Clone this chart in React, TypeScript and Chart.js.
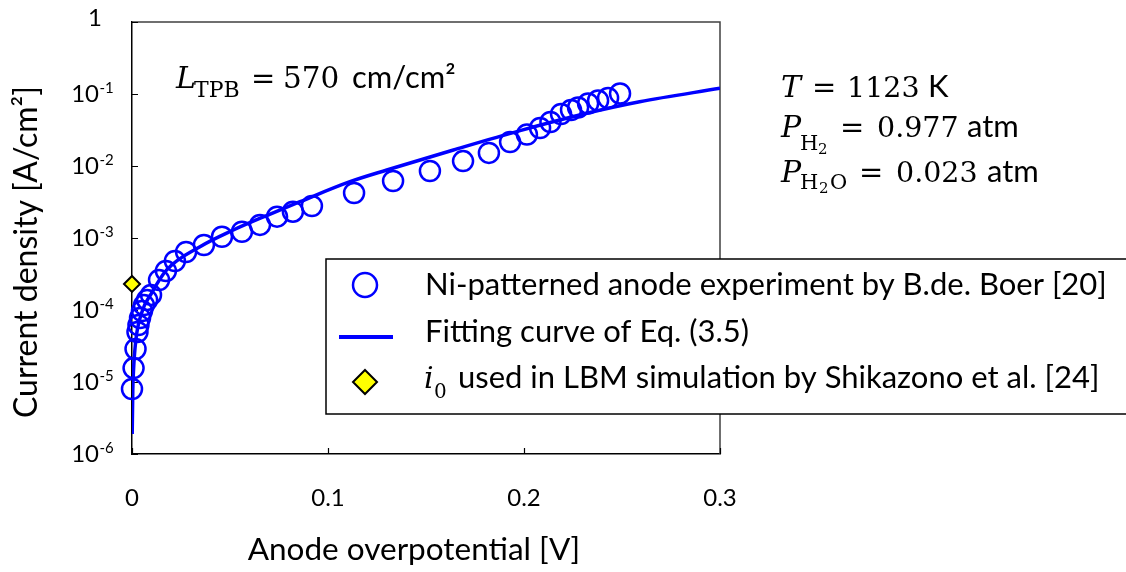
import React, { useEffect, useRef } from 'react';
import { Chart, registerables } from 'chart.js';

Chart.register(...registerables);

// ---- data ----
const expOverpotential = [0.0, 0.0008, 0.0018, 0.0028, 0.0033, 0.0041, 0.0051, 0.0061, 0.0077, 0.0097, 0.0138, 0.0173, 0.0219, 0.0276, 0.0367, 0.0459, 0.0561, 0.0653, 0.074, 0.0821, 0.0918, 0.1133, 0.1332, 0.152, 0.1689, 0.1821, 0.1929, 0.2015, 0.2082, 0.2135, 0.2189, 0.224, 0.2276, 0.2327, 0.2378, 0.2429, 0.249];
const expCurrent = [8.0e-6, 1.56e-5, 2.87e-5, 4.95e-5, 6.19e-5, 7.74e-5, 9.68e-5, 1.17e-4, 1.38e-4, 1.62e-4, 2.61e-4, 3.48e-4, 4.8e-4, 6.39e-4, 8.0e-4, 1.04e-3, 1.22e-3, 1.52e-3, 1.98e-3, 2.32e-3, 2.78e-3, 4.22e-3, 6.19e-3, 8.53e-3, 1.17e-2, 1.52e-2, 2.15e-2, 2.74e-2, 3.37e-2, 4.08e-2, 5.27e-2, 6.0e-2, 6.49e-2, 7.38e-2, 8.13e-2, 8.8e-2, 0.1016];

const fitOverpotential = [0.0001, 0.0004, 0.0007, 0.0019, 0.0049, 0.01, 0.0177, 0.0347, 0.0517, 0.0687, 0.0857, 0.1112, 0.13, 0.164, 0.198, 0.232, 0.259, 0.3];
const fitCurrent = [1.9e-6, 7.5e-6, 1.33e-5, 3.7e-5, 9.1e-5, 1.72e-4, 3.6e-4, 7.57e-4, 1.29e-3, 2.05e-3, 3.19e-3, 6.05e-3, 8.8e-3, 1.67e-2, 3.1e-2, 5.4e-2, 7.8e-2, 0.12];

const i0Overpotential = [0];
const i0Current = [2.3e-4];

const xTicks = [0, 0.1, 0.2, 0.3];
const yExponents = [0, -1, -2, -3, -4, -5, -6];

const legendLabels = [
  'Ni-patterned anode experiment by B.de. Boer [20]',
  'Fitting curve of Eq. (3.5)',
  'used in LBM simulation by Shikazono et al. [24]',
];
const xTitle = 'Anode overpotential [V]';
const yTitle = 'Current density [A/cm\u00B2]';

const BLUE = '#0000ff';
const SANS = 'Lato, "Noto Sans", sans-serif';
const SERIF = '"DejaVu Serif", "Liberation Serif", serif';

type Seg = { t: string; x: number; y: number; font: string };

function drawSegs(ctx: CanvasRenderingContext2D, segs: Seg[]) {
  ctx.textAlign = 'left';
  ctx.textBaseline = 'alphabetic';
  ctx.fillStyle = '#000';
  for (const s of segs) {
    ctx.font = s.font;
    ctx.fillText(s.t, s.x, s.y);
  }
}

const overlayPlugin = {
  id: 'overlay',
  beforeDatasetsDraw(chart: any) {
    const { ctx, chartArea: a } = chart;
    ctx.save();
    // top and right frame
    ctx.strokeStyle = '#404040';
    ctx.lineWidth = 1.5;
    ctx.beginPath();
    ctx.moveTo(a.left, a.top);
    ctx.lineTo(a.right, a.top);
    ctx.lineTo(a.right, a.bottom);
    ctx.stroke();
    // inward ticks
    const xs = chart.scales.x;
    const ys = chart.scales.y;
    ctx.strokeStyle = '#000';
    ctx.lineWidth = 1.2;
    ctx.beginPath();
    for (const e of yExponents) {
      const py = Math.round(ys.getPixelForValue(Math.pow(10, e))) + 0.5;
      ctx.moveTo(a.left, py);
      ctx.lineTo(a.left + 6, py);
    }
    for (const v of xTicks) {
      const px = Math.round(xs.getPixelForValue(v)) + 0.5;
      ctx.moveTo(px, a.bottom);
      ctx.lineTo(px, a.bottom - 6);
    }
    ctx.stroke();
    ctx.restore();
  },
  afterDraw(chart: any) {
    const { ctx } = chart;
    const ys = chart.scales.y;
    ctx.save();
    ctx.fillStyle = '#000';
    // y tick labels with superscript exponents
    for (const e of yExponents) {
      const py = ys.getPixelForValue(Math.pow(10, e));
      if (e === 0) {
        ctx.font = `24px ${SANS}`;
        ctx.textAlign = 'right';
        ctx.textBaseline = 'middle';
        ctx.fillText('1', 102, py - 4);
      } else {
        ctx.font = `24px ${SANS}`;
        ctx.textAlign = 'right';
        ctx.textBaseline = 'middle';
        ctx.fillText('10', 99, py);
        ctx.font = `15px ${SANS}`;
        ctx.textAlign = 'left';
        ctx.textBaseline = 'alphabetic';
        ctx.fillText(String(e), 99.5, py - 1);
      }
    }
    // axis titles
    ctx.font = `31.5px ${SANS}`;
    ctx.textAlign = 'center';
    ctx.textBaseline = 'middle';
    ctx.fillText(xTitle, 414, 550);
    ctx.save();
    ctx.translate(27, 252);
    ctx.rotate(-Math.PI / 2);
    ctx.font = `32px ${SANS}`;
    ctx.fillText(yTitle, 0, 0);
    ctx.restore();

    // annotation: L_TPB
    drawSegs(ctx, [
      { t: 'L', x: 176, y: 88, font: `italic 30px ${SERIF}` },
      { t: 'TPB', x: 194, y: 97, font: `22px ${SERIF}` },
      { t: '=', x: 251, y: 88, font: `29px ${SERIF}` },
      { t: '570', x: 283, y: 88, font: `29.5px ${SERIF}` },
      { t: 'cm/cm\u00B2', x: 352, y: 88, font: `31px ${SANS}` },
    ]);
    // conditions
    drawSegs(ctx, [
      { t: 'T', x: 781, y: 97, font: `italic 30px ${SERIF}` },
      { t: '=', x: 812, y: 97, font: `29px ${SERIF}` },
      { t: '1123', x: 847, y: 97, font: `28.5px ${SERIF}` },
      { t: 'K', x: 928, y: 97, font: `31px ${SANS}` },
      { t: 'P', x: 781, y: 137, font: `italic 30px ${SERIF}` },
      { t: 'H', x: 800, y: 150, font: `21px ${SERIF}` },
      { t: '2', x: 818, y: 154, font: `15px ${SERIF}` },
      { t: '=', x: 840, y: 137, font: `29px ${SERIF}` },
      { t: '0.977', x: 877, y: 137, font: `28.5px ${SERIF}` },
      { t: 'atm', x: 967, y: 137, font: `31px ${SANS}` },
      { t: 'P', x: 781, y: 182, font: `italic 30px ${SERIF}` },
      { t: 'H', x: 800, y: 189, font: `21px ${SERIF}` },
      { t: '2', x: 819, y: 193, font: `15px ${SERIF}` },
      { t: 'O', x: 830, y: 189, font: `21px ${SERIF}` },
      { t: '=', x: 859, y: 182, font: `29px ${SERIF}` },
      { t: '0.023', x: 896, y: 182, font: `28.5px ${SERIF}` },
      { t: 'atm', x: 987, y: 182, font: `31px ${SANS}` },
    ]);

    // legend box (extends past the right edge of the picture)
    const lx = 326, ly = 259, lw = 820, lh = 155;
    ctx.fillStyle = '#fff';
    ctx.fillRect(lx, ly, lw, lh);
    ctx.strokeStyle = '#000';
    ctx.lineWidth = 1.5;
    ctx.strokeRect(lx, ly, lw, lh);
    // markers
    ctx.strokeStyle = BLUE;
    ctx.lineWidth = 2.5;
    ctx.beginPath();
    ctx.arc(365, 285, 12, 0, Math.PI * 2);
    ctx.stroke();
    ctx.lineWidth = 4;
    ctx.beginPath();
    ctx.moveTo(339, 337);
    ctx.lineTo(393, 337);
    ctx.stroke();
    ctx.beginPath();
    ctx.moveTo(365, 370);
    ctx.lineTo(377, 382);
    ctx.lineTo(365, 394);
    ctx.lineTo(353, 382);
    ctx.closePath();
    ctx.fillStyle = '#ffff00';
    ctx.fill();
    ctx.strokeStyle = '#000';
    ctx.lineWidth = 2;
    ctx.stroke();
    drawSegs(ctx, [
      { t: legendLabels[0], x: 425, y: 295, font: `31px ${SANS}` },
      { t: legendLabels[1], x: 425, y: 342, font: `31px ${SANS}` },
      { t: 'i', x: 424, y: 388, font: `italic 30px ${SERIF}` },
      { t: '0', x: 434, y: 398, font: `20px ${SERIF}` },
      { t: legendLabels[2], x: 458, y: 388, font: `31px ${SANS}` },
    ]);
    ctx.restore();
  },
};

export default function App() {
  const ref = useRef<HTMLCanvasElement | null>(null);
  useEffect(() => {
    document.body.style.margin = '0';
    const canvas = ref.current!;
    const chart = new Chart(canvas, {
      type: 'scatter',
      data: {
        datasets: [
          {
            label: legendLabels[0],
            data: expOverpotential.map((x, i) => ({ x, y: expCurrent[i] })),
            pointStyle: 'circle',
            pointRadius: 10,
            borderColor: BLUE,
            borderWidth: 2.5,
            backgroundColor: 'rgba(0,0,0,0)',
            showLine: false,
            clip: false,
            order: 2,
          } as any,
          {
            label: legendLabels[1],
            data: fitOverpotential.map((x, i) => ({ x, y: fitCurrent[i] })),
            showLine: true,
            borderColor: BLUE,
            borderWidth: 3.5,
            pointRadius: 0,
            cubicInterpolationMode: 'monotone',
            order: 1,
          } as any,
          {
            label: 'i0 ' + legendLabels[2],
            data: i0Overpotential.map((x, i) => ({ x, y: i0Current[i] })),
            pointStyle: 'rectRot',
            pointRadius: 8,
            backgroundColor: '#ffff00',
            borderColor: '#000',
            borderWidth: 2,
            clip: false,
            order: 0,
          } as any,
        ],
      },
      options: {
        responsive: false,
        animation: false,
        devicePixelRatio: 1,
        layout: { padding: { left: 0, right: 406, top: 22, bottom: 0 } },
        plugins: { legend: { display: false }, tooltip: { enabled: false } },
        scales: {
          x: {
            type: 'linear',
            min: 0,
            max: 0.3,
            afterFit: (s: any) => { s.height = 118; },
            afterBuildTicks: (s: any) => { s.ticks = xTicks.map((v) => ({ value: v })); },
            grid: { display: false, drawTicks: false },
            border: { display: true, color: '#000', width: 1.5 },
            ticks: {
              padding: 30,
              color: '#000',
              font: { family: SANS, size: 24 },
              callback: (v: any) => (Number(v) === 0 ? '0' : Number(v).toFixed(1)),
              maxRotation: 0,
            },
          },
          y: {
            type: 'logarithmic',
            min: 1e-6,
            max: 1,
            afterFit: (s: any) => { s.width = 132; },
            grid: { display: false, drawTicks: false },
            border: { display: true, color: '#000', width: 1.5 },
            ticks: { display: false },
          },
        },
      } as any,
      plugins: [overlayPlugin],
    });
    return () => chart.destroy();
  }, []);
  return (
    <div style={{ width: 1126, height: 572, background: '#fff' }}>
      <canvas ref={ref} width={1126} height={572} style={{ display: 'block' }} />
    </div>
  );
}
